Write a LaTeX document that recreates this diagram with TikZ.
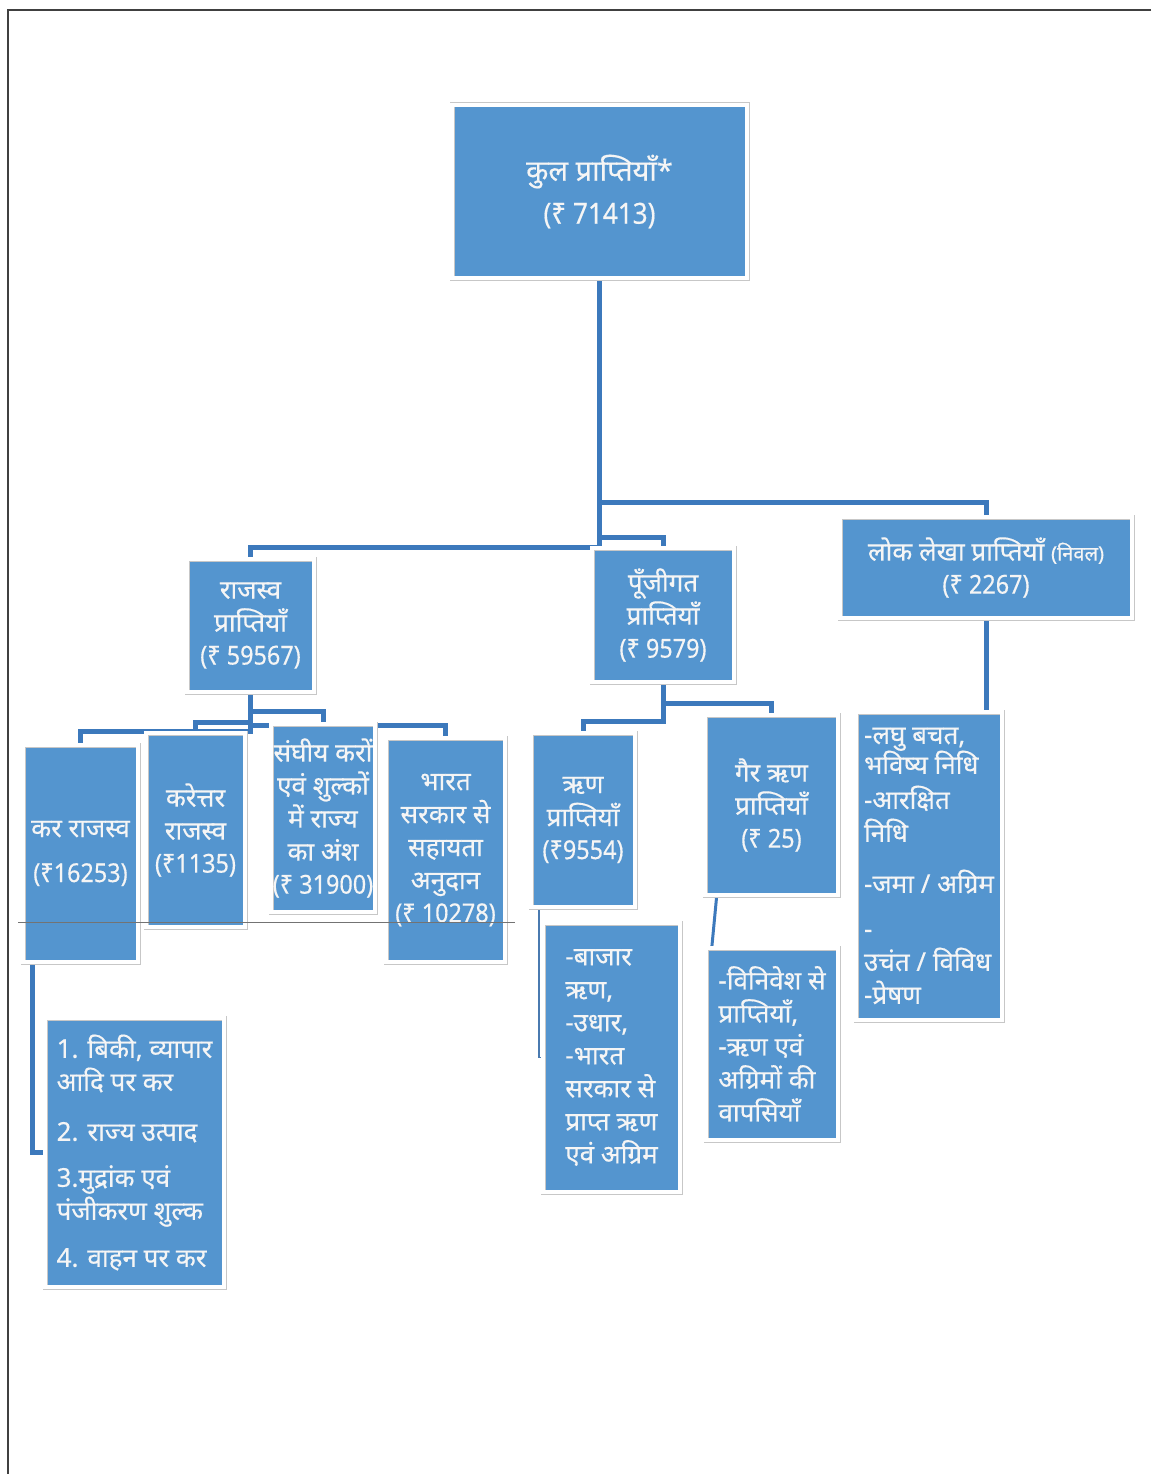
\documentclass[tikz,border=0pt]{standalone}
\usepackage{fontspec}
\newfontfamily\hindi[Script=Devanagari,FakeBold=0.4]{Noto Sans}
\newfontfamily\numfont[FakeStretch=0.9,FakeBold=0.4]{Noto Sans}
\usepackage{tikz}
\usetikzlibrary{backgrounds}
\definecolor{boxblue}{RGB}{84,149,207}
\definecolor{linkblue}{RGB}{60,121,188}
\tikzset{
  box/.style={fill=boxblue, draw=black!22, line width=0.5pt, double=white, double distance=4pt, text=white!96!black, align=center, inner sep=0pt, font=\hindi\fontsize{26}{33}\selectfont},
  listbox/.style={box, align=left},
  link/.style={draw=linkblue, line width=5pt},
  thinlink/.style={draw=linkblue!80!gray, line width=1.6pt}
}

\begin{document}
\begin{tikzpicture}[x=1pt,y=-1pt]
\useasboundingbox (0,0) rectangle (1151,1474);
\draw[black!75, line width=1.5pt] (1151,10) -- (8,10) -- (8,1474);
% top
\node[box, minimum width=295, minimum height=173, font=\hindi\fontsize{29}{43}\selectfont] (kul) at (599.5,191.5) {कुल प्राप्तियाँ*\\{\numfont(₹ 71413)}};
% second level
\node[box, minimum width=127, minimum height=133] (raj) at (250.5,625.5) {राजस्व\\प्राप्तियाँ\\{\numfont(₹ 59567)}};
\node[box, minimum width=142, minimum height=134] (punji) at (663,615) {पूँजीगत\\प्राप्तियाँ\\{\numfont(₹ 9579)}};
\node[box, minimum width=292, minimum height=101] (lok) at (986,567.5) {लोक लेखा प्राप्तियाँ {\fontsize{20}{33}\selectfont(निवल)}\\{\numfont(₹ 2267)}};
% third level
\node[box, minimum width=115, minimum height=217] (kar) at (80.5,853.5) {कर राजस्व\\[12pt]{\numfont(₹16253)}};
\node[box, minimum width=99, minimum height=194] (karettar) at (195.5,830) {करेत्तर\\राजस्व\\{\numfont(₹1135)}};
\node[box, minimum width=104, minimum height=188] (sangh) at (323,818) {संघीय करों\\एवं शुल्कों\\में राज्य\\का अंश\\{\numfont(₹ 31900)}};
\node[box, minimum width=119, minimum height=224] (bharat) at (445.5,850) {भारत\\सरकार से\\सहायता\\अनुदान\\{\numfont(₹ 10278)}};
\node[box, minimum width=104, minimum height=174] (rin) at (583,820) {ऋण\\प्राप्तियाँ\\{\numfont(₹9554)}};
\node[box, minimum width=133, minimum height=180] (gair) at (771.5,805) {गैर ऋण\\प्राप्तियाँ\\{\numfont(₹ 25)}};
% lists
\node[listbox, minimum width=179, minimum height=269] (karlist) at (134.5,1152.5) {1. बिकी, व्यापार\\आदि पर कर\\[17pt]2. राज्य उत्पाद\\[13pt]3.मुद्रांक एवं\\पंजीकरण शुल्क\\[14pt]4. वाहन पर कर};
\node[listbox, minimum width=137, minimum height=269] (rinlist) at (611.5,1057.5) {-बाजार\\ऋण,\\-उधार,\\-भारत\\सरकार से\\प्राप्त ऋण\\एवं अग्रिम};
\node[listbox, minimum width=132, minimum height=192] (gairlist) at (772,1044) {-विनिवेश से\\प्राप्तियाँ,\\-ऋण एवं\\अग्रिमों की\\वापसियाँ};
\node[listbox, minimum width=146, minimum height=308] (loklist) at (929,866) {-लघु बचत,\\[-3pt]भविष्य निधि\\[2pt]-आरक्षित\\निधि\\[18pt]-जमा / अग्रिम\\[12pt]-\\उचंत / विविध\\-प्रेषण};
\begin{scope}[on background layer]
\draw[link] (kul.south) -- ++(0,224) -| (lok.north);
\draw[link] (kul.south) -- ++(0,259) -| (punji.north);
\draw[link] (kul.south) -- ++(0,269) -| (raj.north);
\draw[link] (raj.south) -- ++(0,19) -| (sangh.north);
\draw[link] (raj.south) -- ++(0,30) -| (karettar.north);
\draw[link] (raj.south) -- ++(0,39) -| (kar.north);
\draw[link] (raj.south) -- ++(0,33) -| (bharat.north);
\draw[link] (punji.south) -- ++(0,21) -| (gair.north);
\draw[link] (punji.south) -- ++(0,39) -| (rin.north);
\draw[link] (lok.south) -- (lok.south |- loklist.north);
\draw[link] ([xshift=10pt]kar.south west) |- (karlist.west);
\draw[thinlink] ([xshift=8pt]rin.south west) |- (rinlist.west);
\draw[link, line width=3pt] ([xshift=12pt]gair.south west) -- ([xshift=6pt]gairlist.north west);
\end{scope}
\draw[black!55, line width=0.8pt] (18,922) -- (515,922);
\end{tikzpicture}
\end{document}
